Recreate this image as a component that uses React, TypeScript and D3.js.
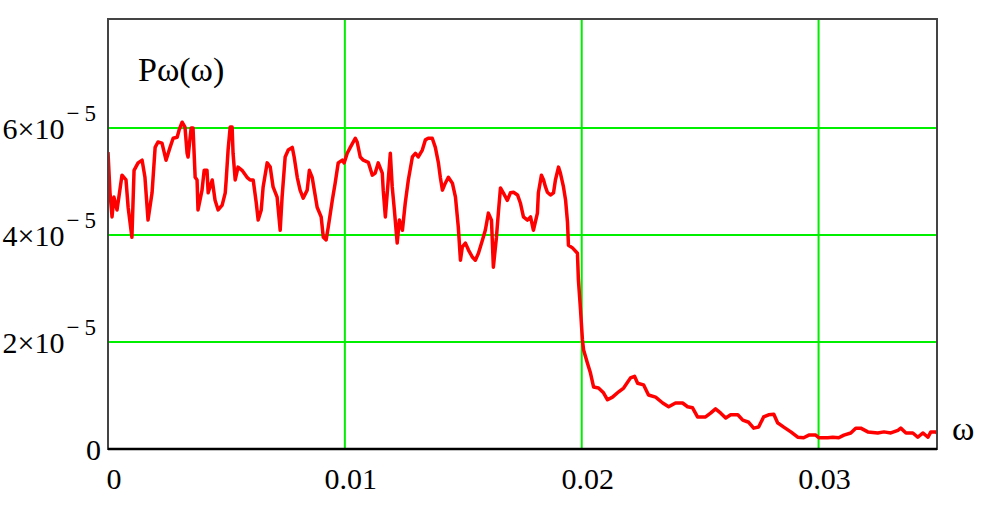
import React, { useEffect, useRef } from 'react';
import * as d3 from 'd3';

// omega values in units of 1e-3
const omegaE3 = [
  0, 0.085, 0.17, 0.25, 0.38, 0.46, 0.59, 0.76, 0.85, 1.01, 1.1, 1.27, 1.44, 1.56, 1.69, 1.86,
  1.99, 2.11, 2.28, 2.45, 2.62, 2.75, 2.92, 3.0, 3.13, 3.25, 3.34, 3.38, 3.51, 3.59, 3.68, 3.76,
  3.8, 3.97, 4.06, 4.18, 4.23, 4.4, 4.52, 4.65, 4.82, 4.95, 4.99, 5.07, 5.16, 5.24, 5.28, 5.37,
  5.49, 5.66, 5.87, 6.0, 6.13, 6.26, 6.34, 6.47, 6.55, 6.72, 6.85, 6.97, 7.14, 7.27, 7.35, 7.48,
  7.61, 7.78, 7.86, 7.99, 8.11, 8.24, 8.41, 8.5, 8.62, 8.71, 8.83, 9.0, 9.09, 9.21, 9.3, 9.47,
  9.59, 9.72, 9.89, 9.97, 10.1, 10.23, 10.44, 10.52, 10.65, 10.78, 10.99, 11.16, 11.28, 11.41,
  11.58, 11.62, 11.71, 11.79, 11.92, 12.0, 12.09, 12.21, 12.3, 12.43, 12.55, 12.68, 12.85, 12.98,
  13.1, 13.27, 13.4, 13.52, 13.69, 13.82, 13.95, 14.03, 14.12, 14.24, 14.37, 14.54, 14.67, 14.79,
  14.88, 14.96, 15.09, 15.22, 15.38, 15.51, 15.64, 15.81, 15.93, 16.06, 16.19, 16.27, 16.4, 16.48,
  16.57, 16.69, 16.86, 16.99, 17.12, 17.29, 17.41, 17.54, 17.71, 17.84, 17.96, 18.13, 18.17, 18.3,
  18.39, 18.47, 18.55, 18.68, 18.81, 18.89, 19.02, 19.1, 19.23, 19.32, 19.4, 19.44, 19.61, 19.82,
  19.86, 19.95, 20.03, 20.08, 20.24, 20.37, 20.5, 20.71, 20.92, 21.09, 21.3, 21.56, 21.77, 22.06,
  22.23, 22.36, 22.61, 22.82, 23.12, 23.42, 23.67, 23.96, 24.26, 24.47, 24.68, 24.89, 25.23, 25.44,
  25.65, 25.87, 26.08, 26.29, 26.59, 26.8, 27.05, 27.26, 27.47, 27.68, 27.89, 28.11, 28.27, 28.53,
  28.83, 29.12, 29.37, 29.59, 29.88, 30.01, 30.39, 30.6, 30.85, 31.07, 31.36, 31.57, 31.78, 32.08,
  32.5, 32.76, 33.05, 33.35, 33.47, 33.69, 33.98, 34.19, 34.4, 34.62, 34.74, 34.95, 35.0,
];

// spectral power in units of 1e-5
const powerE5 = [
  5.55, 4.79, 4.34, 4.71, 4.47, 4.71, 5.12, 5.03, 4.52, 3.96, 5.21, 5.35, 5.4, 5.08, 4.28, 4.79,
  5.64, 5.74, 5.72, 5.4, 5.64, 5.81, 5.83, 5.96, 6.11, 6.02, 5.53, 5.46, 6.0, 6.0, 5.08, 5.03,
  4.47, 4.84, 5.21, 5.21, 4.79, 5.03, 4.65, 4.47, 4.56, 4.79, 5.03, 5.59, 6.02, 6.02, 5.53, 5.03,
  5.27, 5.21, 5.08, 5.03, 5.03, 4.6, 4.28, 4.47, 4.9, 5.35, 5.27, 4.9, 4.71, 4.09, 4.71, 5.46,
  5.59, 5.64, 5.46, 5.08, 4.84, 4.69, 4.84, 5.21, 5.08, 4.84, 4.52, 4.34, 3.96, 3.91, 4.15, 4.65,
  4.97, 5.35, 5.4, 5.35, 5.53, 5.64, 5.81, 5.74, 5.46, 5.4, 5.36, 5.12, 5.16, 5.35,
  5.16, 4.84, 4.34, 4.79, 5.53, 4.9, 4.47, 3.85, 4.28, 4.09, 4.6, 5.03, 5.46, 5.53,
  5.46, 5.59, 5.78, 5.81, 5.81, 5.64, 5.35, 5.08, 4.84, 4.97, 5.08, 4.97, 4.71, 4.15,
  3.53, 3.78, 3.85, 3.72, 3.59, 3.53, 3.66, 3.91, 4.09, 4.41, 4.28, 3.4, 3.96, 4.41,
  4.88, 4.79, 4.65, 4.79, 4.8, 4.75, 4.6, 4.34, 4.28, 4.34, 4.09, 4.41, 4.79, 5.12,
  5.03, 4.9, 4.8, 4.75, 4.79, 5.03, 5.27, 5.16, 4.9, 4.65, 4.24, 3.81, 3.76, 3.66,
  3.16, 2.6, 2.04, 1.85, 1.61, 1.42, 1.16, 1.14, 1.05, 0.92, 0.97, 1.07, 1.14, 1.33,
  1.36, 1.23, 1.2, 1.01, 0.97, 0.86, 0.79, 0.86, 0.86, 0.79, 0.77, 0.6, 0.6, 0.67,
  0.75, 0.67, 0.58, 0.64, 0.64, 0.54, 0.5, 0.39, 0.41, 0.6, 0.64, 0.65, 0.49, 0.41,
  0.32, 0.22, 0.21, 0.26, 0.26, 0.21, 0.21, 0.22, 0.21, 0.26, 0.3, 0.39, 0.39, 0.32,
  0.3, 0.32, 0.3, 0.35, 0.39, 0.3, 0.3, 0.22, 0.3, 0.22, 0.32, 0.32, 0.3,
];

const xTicks = [0, 0.01, 0.02, 0.03];
const xTickLabels = ['0', '0.01', '0.02', '0.03'];
const yTicks = [0, 2e-5, 4e-5, 6e-5];
const yTickMantissas = ['0', '2', '4', '6'];
const yTickExponent = '\u22125';

const App = () => {
  const svgRef = useRef<SVGSVGElement>(null);

  useEffect(() => {
    if (!svgRef.current) return;
    const svg = d3.select(svgRef.current);
    svg.selectAll('*').remove();

    // plot box in page pixels
    const left = 108;
    const right = 937;
    const top = 19;
    const bottom = 449;

    const data = omegaE3.map((w, i) => ({ omega: w * 1e-3, p: powerE5[i] * 1e-5 }));

    const xScale = d3.scaleLinear().domain([0, 0.035]).range([left, right]);
    const yScale = d3.scaleLinear().domain([0, 8.04e-5]).range([bottom, top]);

    const font = '"Liberation Serif", "Times New Roman", serif';
    const gridColor = '#00ee00';

    // grid
    svg
      .append('g')
      .selectAll('line')
      .data(xTicks.filter((t) => t > 0))
      .enter()
      .append('line')
      .attr('x1', (d) => xScale(d))
      .attr('x2', (d) => xScale(d))
      .attr('y1', top)
      .attr('y2', bottom)
      .attr('stroke', gridColor)
      .attr('stroke-width', 2);

    svg
      .append('g')
      .selectAll('line')
      .data(yTicks.filter((t) => t > 0))
      .enter()
      .append('line')
      .attr('x1', left)
      .attr('x2', right)
      .attr('y1', (d) => yScale(d))
      .attr('y2', (d) => yScale(d))
      .attr('stroke', gridColor)
      .attr('stroke-width', 2);

    // clip for the curve
    svg
      .append('clipPath')
      .attr('id', 'plot-clip')
      .append('rect')
      .attr('x', left)
      .attr('y', top)
      .attr('width', right - left)
      .attr('height', bottom - top);

    const line = d3
      .line<{ omega: number; p: number }>()
      .x((d) => xScale(d.omega))
      .y((d) => yScale(d.p));

    svg
      .append('path')
      .datum(data)
      .attr('clip-path', 'url(#plot-clip)')
      .attr('d', line)
      .attr('fill', 'none')
      .attr('stroke', '#ff0000')
      .attr('stroke-width', 3.5)
      .attr('stroke-linejoin', 'round');

    // frame
    svg
      .append('rect')
      .attr('x', left)
      .attr('y', top)
      .attr('width', right - left)
      .attr('height', bottom - top)
      .attr('fill', 'none')
      .attr('stroke', '#444')
      .attr('stroke-width', 2);

    svg
      .append('line')
      .attr('x1', left)
      .attr('x2', right)
      .attr('y1', bottom)
      .attr('y2', bottom)
      .attr('stroke', '#000')
      .attr('stroke-width', 2.5);

    // x tick labels
    svg
      .append('g')
      .selectAll('text')
      .data(xTicks)
      .enter()
      .append('text')
      .attr('x', (d) => xScale(d) + 6)
      .attr('y', 489)
      .attr('text-anchor', 'middle')
      .attr('font-family', font)
      .attr('font-size', 30)
      .attr('fill', '#000')
      .text((d, i) => xTickLabels[i]);

    // y tick labels, mantissa x 10 with raised exponent
    yTicks.forEach((t, i) => {
      const label = svg
        .append('text')
        .attr('x', 101)
        .attr('y', yScale(t) + 11)
        .attr('text-anchor', 'end')
        .attr('font-family', font)
        .attr('font-size', 30)
        .attr('fill', '#000');
      if (t === 0) {
        label.text(yTickMantissas[i]);
        return;
      }
      label.append('tspan').text(`${yTickMantissas[i]}\u00d710`);
      label
        .append('tspan')
        .attr('dy', -18)
        .attr('dx', 2)
        .attr('font-size', 23)
        .attr('letter-spacing', 5)
        .text(yTickExponent);
    });

    // curve name and axis variable
    svg
      .append('text')
      .attr('x', 138)
      .attr('y', 81)
      .attr('font-family', font)
      .attr('font-size', 34)
      .attr('fill', '#000')
      .text('P\u03c9(\u03c9)');

    svg
      .append('text')
      .attr('x', 952)
      .attr('y', 440)
      .attr('font-family', font)
      .attr('font-size', 34)
      .attr('fill', '#000')
      .text('\u03c9');
  }, []);

  return (
    <svg
      ref={svgRef}
      width={988}
      height={508}
      style={{ position: 'absolute', left: 0, top: 0, background: '#fff' }}
    />
  );
};

export default App;
